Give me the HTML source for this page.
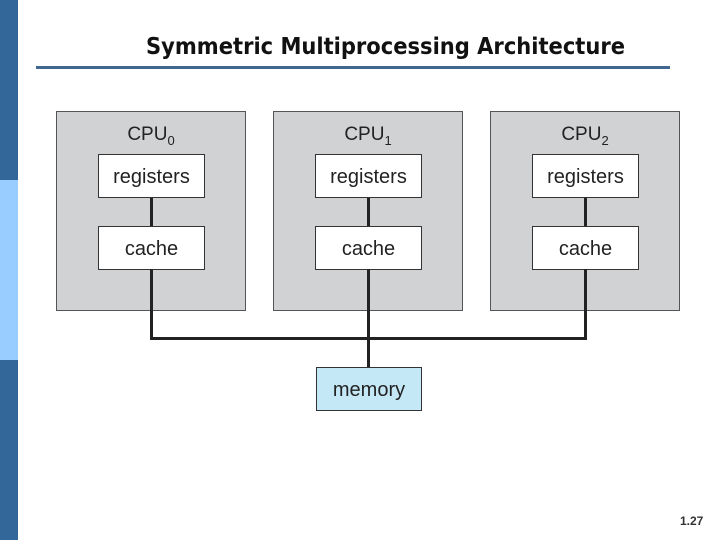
<!DOCTYPE html><html><head><style>
body{margin:0;width:720px;height:540px;position:relative;background:#fff;font-family:"Liberation Sans",sans-serif;overflow:hidden}
.a{position:absolute}
.cpu{position:absolute;top:111px;width:188px;height:198px;background:#d1d2d4;border:1px solid #555}
.lbl{position:absolute;top:12px;width:100%;text-align:center;font-size:19px;color:#222}
.lbl sub{font-size:13px}
.bx{position:absolute;left:41px;width:105px;height:42px;background:#fff;border:1px solid #333;text-align:center;line-height:44px;font-size:20px;color:#222}
.v{position:absolute;background:#222;width:3px}
</style></head><body>
<div class="a" style="left:0;top:0;width:18px;height:180px;background:#336699"></div>
<div class="a" style="left:0;top:180px;width:18px;height:180px;background:#99ccff"></div>
<div class="a" style="left:0;top:360px;width:18px;height:180px;background:#336699"></div>
<div class="a" style="left:146px;top:32px;font-size:23.4px;font-weight:bold;color:#111;font-family:'DejaVu Sans Condensed','Liberation Sans Narrow',sans-serif">Symmetric Multiprocessing Architecture</div>
<div class="a" style="left:36px;top:66px;width:634px;height:3px;background:#41678f"></div>
<div class="cpu" style="left:56px"><div class="lbl">CPU<sub>0</sub></div><div class="bx" style="top:42px">registers</div><div class="v" style="left:93px;top:86px;height:29px"></div><div class="bx" style="top:114px">cache</div></div>
<div class="cpu" style="left:273px"><div class="lbl">CPU<sub>1</sub></div><div class="bx" style="top:42px">registers</div><div class="v" style="left:93px;top:86px;height:29px"></div><div class="bx" style="top:114px">cache</div></div>
<div class="cpu" style="left:490px"><div class="lbl">CPU<sub>2</sub></div><div class="bx" style="top:42px">registers</div><div class="v" style="left:93px;top:86px;height:29px"></div><div class="bx" style="top:114px">cache</div></div>
<div class="v" style="left:150px;top:269px;height:71px"></div>
<div class="v" style="left:367px;top:269px;height:99px"></div>
<div class="v" style="left:584px;top:269px;height:71px"></div>
<div class="a" style="left:150px;top:337px;width:437px;height:3px;background:#222"></div>
<div class="a" style="left:316px;top:367px;width:104px;height:42px;background:#c5e8f7;border:1px solid #333;text-align:center;line-height:44px;font-size:20px;color:#222">memory</div>
<div class="a" style="left:680px;top:514px;font-size:12px;font-weight:bold;color:#333">1.27</div>
</body></html>
